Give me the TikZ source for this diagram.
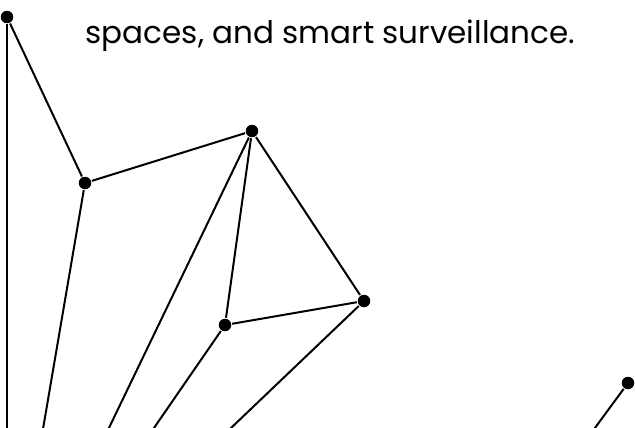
\documentclass[tikz,border=0pt]{standalone}
\usepackage{fontspec}
\setmainfont{Poppins}
\usetikzlibrary{positioning}

\begin{document}
\begin{tikzpicture}[x=1pt, y=-1pt, line width=2pt,
  dot/.style={circle, fill, inner sep=0pt, minimum size=12.5pt}]
  % frame
  \clip (0,0) rectangle (635,428);
  % caption (second line)
  \node[anchor=base, font=\fontsize{31}{37}\selectfont] (cap) at (330.5,44) {spaces, and smart surveillance.};
  % network nodes
  \node[dot] (a) at (7,17) {};
  \node[dot] (b) at (85,183) {};
  \node[dot] (c) at (252,131) {};
  \node[dot] (d) at (364,301) {};
  \node[dot] (e) at (225,325) {};
  \node[dot] (f) at (628,383) {};
  % ends below the frame
  \coordinate (a0) at (7,470);
  \coordinate (b0) at (36,470);
  \coordinate (c0) at (88.7,470);
  \coordinate (e0) at (125,470);
  \coordinate (d0) at (187,470);
  \coordinate (f0) at (564,470);
  % edges
  \draw (a) -- (b) -- (c) -- (d) -- (e) -- (c);
  \draw (a) -- (a0);
  \draw (b) -- (b0);
  \draw (c) -- (c0);
  \draw (e) -- (e0);
  \draw (d) -- (d0);
  \draw (f) -- (f0);
\end{tikzpicture}
\end{document}
